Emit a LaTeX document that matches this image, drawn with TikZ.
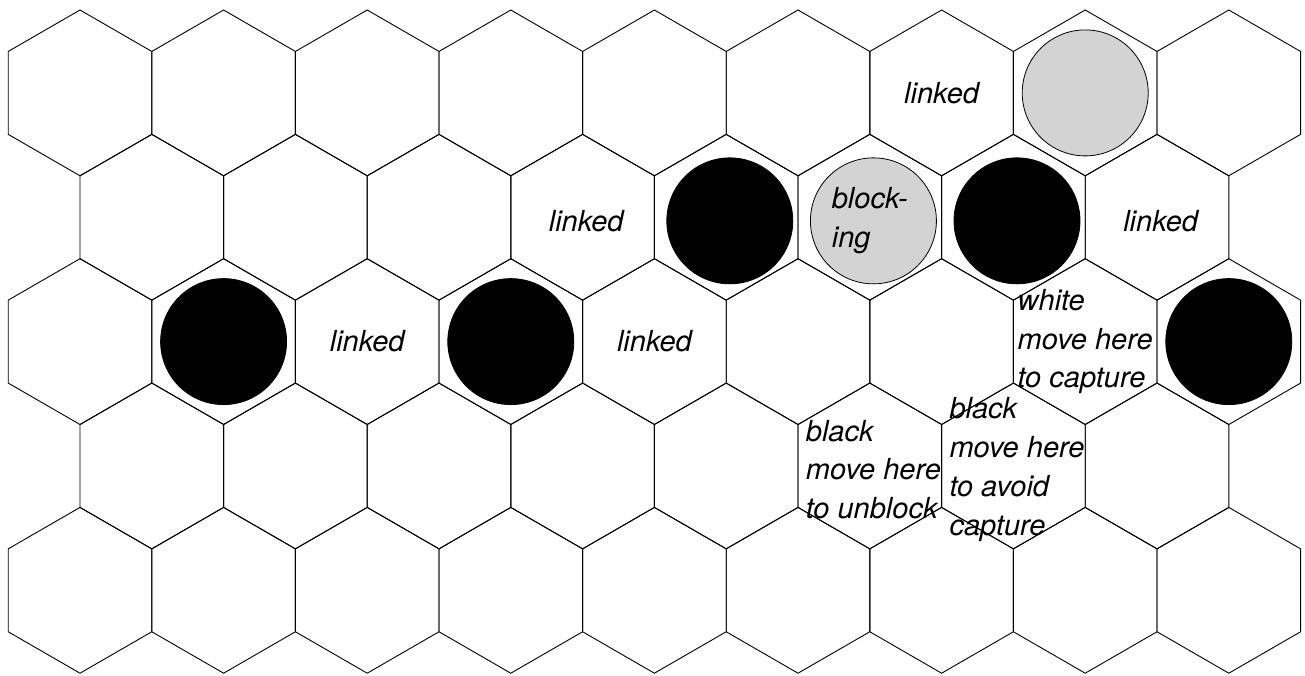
\documentclass[tikz,border=0pt]{standalone}
\usepackage{fontspec}
\setmainfont{TeX Gyre Heros}
\usetikzlibrary{shapes.geometric,positioning}
\definecolor{stonegray}{RGB}{211,211,211}

\begin{document}
\begin{tikzpicture}[x=1pt, y=-1pt,
    cell/.style={draw, regular polygon, regular polygon sides=6, shape border rotate=30, minimum size=165.8pt, inner sep=0pt, line width=0.9pt},
    blackstone/.style={draw, circle, minimum size=126pt, inner sep=0pt, fill=black, line width=0.8pt},
    whitestone/.style={draw, circle, minimum size=126pt, inner sep=0pt, fill=stonegray, line width=0.8pt},
    note/.style={inner sep=0pt, align=left, font=\fontsize{29}{38.8}\selectfont\itshape},
    oddshift/.style={xshift=3.6pt, yshift=-3.6pt}
]
    \useasboundingbox (0,0) rectangle (1305,675);

    % board
    \foreach \r in {0,2,4}
        \foreach \c in {0,...,8}
            \node[cell] (c\r-\c) at ({80+\c*143.6},{92.9+\r*124.35}) {};
    \foreach \r in {1,3}
        \foreach \c in {0,...,7}
            \node[cell] (c\r-\c) at ({151.8+\c*143.6},{92.9+\r*124.35}) {};

    % stones
    \node[blackstone] (b1) at (c2-1) {};
    \node[blackstone] (b2) at (c2-3) {};
    \node[blackstone] (b3) at (c2-8) {};
    \node[blackstone, oddshift] (b4) at (c1-4) {};
    \node[blackstone, oddshift] (b5) at (c1-6) {};
    \node[whitestone, oddshift] (w1) at (c1-5) {};
    \node[whitestone] (w2) at (c0-7) {};

    % labels
    \node[note] (l1) at (c0-6) {linked};
    \node[note, oddshift] (l2) at (c1-3) {linked};
    \node[note, oddshift] (l3) at (c1-7) {linked};
    \node[note] (l4) at (c2-2) {linked};
    \node[note] (l5) at (c2-4) {linked};
    \node[note, yshift=-3.4pt] (blk) at (c1-5) {block-\\ing};
    \node[note] (cap) at (c2-7) {white\\move here\\to capture};
    \node[note, oddshift] (unb) at (c3-5) {black\\move here\\to unblock};
    \node[note, oddshift] (avd) at (c3-6) {black\\move here\\to avoid\\capture};
\end{tikzpicture}
\end{document}
